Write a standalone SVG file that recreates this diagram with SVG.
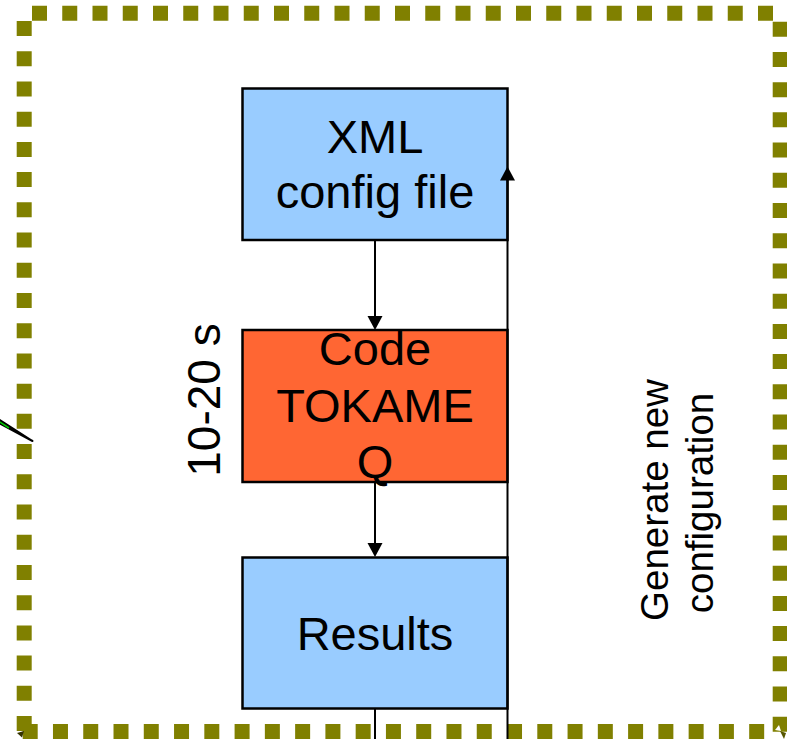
<svg xmlns="http://www.w3.org/2000/svg" width="787" height="739" viewBox="0 0 787 739">
<style>
.border{stroke:#808000;stroke-width:15;fill:none}
.box{stroke:#000;stroke-width:2.5}
.blue{fill:#99CCFF}
.orange{fill:#FF6633}
.lbl{font-family:"Liberation Sans",Arial,sans-serif;fill:#000;text-anchor:middle}
.big{font-size:47px}
.conn{stroke:#000;stroke-width:2;fill:none}
.head{fill:#000;stroke:none}
</style>
<defs>
<path id="headDown" d="M-7.5,-14 L7.5,-14 L0,0 Z"/>
</defs>
<rect width="787" height="739" fill="#fff"/>
<g id="frame">
<line class="border" x1="32" y1="13.2" x2="773" y2="13.2" stroke-dasharray="15 15.25"/>
<line class="border" x1="24.2" y1="21" x2="24.2" y2="731.8" stroke-dasharray="15 15.22"/>
<line class="border" x1="780.2" y1="21.7" x2="780.2" y2="732.5" stroke-dasharray="15 15.22"/>
<line class="border" x1="22.7" y1="731.5" x2="764.5" y2="731.5" stroke-dasharray="15 15.27"/>
<polygon points="17,733 24,731 22,737.5" fill="#333300"/>
<polygon points="775,730 779,725 781,731" fill="#fff"/>
<polygon points="780,731 786,733 784,739" fill="#555500"/>
</g>
<g id="stray-line">
<path d="M-5,417 L32.5,441 L-5,421 Z" fill="#000" stroke="#000" stroke-width="2" stroke-linejoin="round"/>
<line x1="-5" y1="419" x2="9" y2="428" stroke="#00cc00" stroke-width="1.5"/>
</g>
<g id="xml-config">
<rect class="box blue" x="242.5" y="88.5" width="265" height="151.5"/>
<text class="lbl big" x="375" y="152.7">XML</text>
<text class="lbl big" x="375" y="208">config file</text>
</g>
<g id="code-tokameq">
<rect class="box orange" x="242.5" y="330" width="265" height="152"/>
<text class="lbl big" x="375" y="365">Code</text>
<text class="lbl big" x="375" y="421.7">TOKAME</text>
<text class="lbl big" x="375" y="478.3">Q</text>
</g>
<g id="results">
<rect class="box blue" x="242.5" y="557.5" width="265" height="151"/>
<text class="lbl big" x="375" y="650">Results</text>
</g>
<g id="time-label">
<text class="lbl" font-size="46" transform="translate(220,400) rotate(-90)">10-20 s</text>
</g>
<g id="generate-label">
<text class="lbl" font-size="38.5" transform="translate(668,500) rotate(-90)">Generate new</text>
<text class="lbl" font-size="38.5" transform="translate(713.3,503) rotate(-90)">configuration</text>
</g>
<g id="connectors">
<line class="conn" x1="375" y1="241" x2="375" y2="318"/>
<use href="#headDown" class="head" transform="translate(375,330)"/>
<line class="conn" x1="375" y1="483" x2="375" y2="545"/>
<use href="#headDown" class="head" transform="translate(375,557)"/>
<line class="conn" x1="375" y1="709" x2="375" y2="745"/>
<line class="conn" x1="507.5" y1="745" x2="507.5" y2="179"/>
<use href="#headDown" class="head" transform="translate(507.5,166.5) rotate(180)"/>
</g>
</svg>
